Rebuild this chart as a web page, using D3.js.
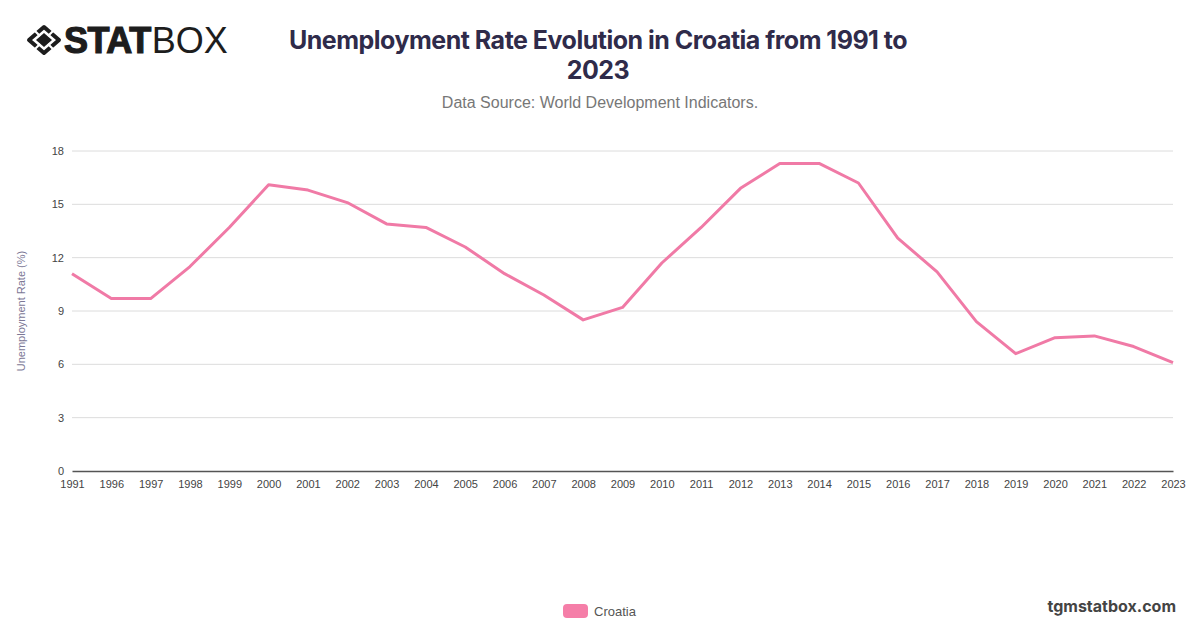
<!DOCTYPE html>
<html>
<head>
<meta charset="utf-8">
<script src="https://cdn.jsdelivr.net/npm/d3@7"></script>
<style>
  body { margin: 0; background: #fff; }
  svg { display: block; font-family: "Liberation Sans", Arial, sans-serif; }
</style>
</head>
<body>
<svg id="chart" width="1200" height="628"></svg>
<script>
// data
const years = ["1991", "1996", "1997", "1998", "1999", "2000", "2001", "2002", "2003", "2004",
  "2005", "2006", "2007", "2008", "2009", "2010", "2011", "2012", "2013", "2014",
  "2015", "2016", "2017", "2018", "2019", "2020", "2021", "2022", "2023"];
const croatia = [11.1, 9.7, 9.7, 11.5, 13.7, 16.1, 15.8, 15.1, 13.9, 13.7,
  12.6, 11.1, 9.9, 8.5, 9.2, 11.7, 13.7, 15.9, 17.3, 17.3,
  16.2, 13.1, 11.2, 8.4, 6.6, 7.5, 7.6, 7.0, 6.1];
const yTicks = [0, 3, 6, 9, 12, 15, 18];

const svg = d3.select("#chart");
const plotLeft = 72, plotRight = 1173, plotTop = 151, plotBottom = 471;

const x = d3.scalePoint().domain(years).range([plotLeft, plotRight]);
const y = d3.scaleLinear().domain([0, 18]).range([plotBottom, plotTop]);

// logo
const logo = svg.append("g").attr("transform", "translate(44,40)");
logo.append("path")
  .attr("d", "M0,-13 L15,0 L0,13 L-15,0 Z")
  .attr("fill", "none").attr("stroke", "#1d1d1d").attr("stroke-width", 4)
  .attr("stroke-linejoin", "round");
logo.append("path").attr("d", "M0,-7 L8,0 L0,7 L-8,0 Z").attr("fill", "#1d1d1d");
[[-1, -1], [1, -1], [1, 1], [-1, 1]].forEach(d => {
  logo.append("line")
    .attr("x1", d[0] * 4).attr("y1", d[1] * 4)
    .attr("x2", d[0] * 11).attr("y2", d[1] * 11)
    .attr("stroke", "#fff").attr("stroke-width", 2.2);
});
const logoText = svg.append("text").attr("x", 64).attr("y", 53)
  .attr("font-size", 36).attr("fill", "#1d1d1d");
logoText.append("tspan").attr("font-weight", 900).attr("letter-spacing", -0.5)
  .attr("stroke", "#1d1d1d").attr("stroke-width", 1.2).text("STAT");
logoText.append("tspan").attr("font-weight", 300).attr("dx", 1).text("BOX");

// title
svg.append("text").attr("x", 598).attr("y", 49).attr("text-anchor", "middle")
  .attr("font-family", "Inter, sans-serif")
  .attr("font-size", 25).attr("font-weight", 700).attr("fill", "#2f2b4a").attr("letter-spacing", -0.5)
  .text("Unemployment Rate Evolution in Croatia from 1991 to");
svg.append("text").attr("x", 598).attr("y", 79).attr("text-anchor", "middle")
  .attr("font-family", "Inter, sans-serif")
  .attr("font-size", 25).attr("font-weight", 700).attr("fill", "#2f2b4a").attr("letter-spacing", -0.5)
  .text("2023");
svg.append("text").attr("x", 600).attr("y", 108).attr("text-anchor", "middle")
  .attr("font-size", 16).attr("fill", "#777")
  .text("Data Source: World Development Indicators.");

// grid
svg.append("g").selectAll("line").data(yTicks.filter(d => d > 0)).join("line")
  .attr("x1", plotLeft).attr("x2", plotRight)
  .attr("y1", d => y(d)).attr("y2", d => y(d))
  .attr("stroke", "#dcdcdc").attr("stroke-width", 1);

// y axis
const yAxis = svg.append("g").attr("transform", `translate(${plotLeft},0)`)
  .call(d3.axisLeft(y).tickValues(yTicks).tickSize(0).tickPadding(8));
yAxis.select(".domain").remove();
yAxis.selectAll("text").attr("font-size", 11).attr("fill", "#444").attr("font-family", "'Liberation Sans', Arial, sans-serif");

// x axis
const xAxis = svg.append("g").attr("transform", `translate(0,${plotBottom})`)
  .call(d3.axisBottom(x).tickSize(0).tickPadding(9));
xAxis.select(".domain").attr("stroke", "#555").attr("stroke-width", 1.5);
xAxis.selectAll("text").attr("font-size", 11).attr("fill", "#444").attr("font-family", "'Liberation Sans', Arial, sans-serif");

svg.append("text")
  .attr("transform", `translate(25,${(plotTop + plotBottom) / 2}) rotate(-90)`)
  .attr("text-anchor", "middle").attr("font-size", 11).attr("fill", "#7c7896")
  .text("Unemployment Rate (%)");

// line
const line = d3.line().x((d, i) => x(years[i])).y(d => y(d));
svg.append("path").datum(croatia)
  .attr("d", line).attr("fill", "none")
  .attr("stroke", "#f07aa6").attr("stroke-width", 3)
  .attr("stroke-linejoin", "round");

// legend
svg.append("rect").attr("x", 563).attr("y", 604).attr("width", 25).attr("height", 14).attr("rx", 4)
  .attr("fill", "#f57ea8");
svg.append("text").attr("x", 594).attr("y", 616).attr("font-size", 13).attr("fill", "#555")
  .text("Croatia");

svg.append("text").attr("x", 1176).attr("y", 612).attr("text-anchor", "end")
  .attr("font-family", "Inter, sans-serif")
  .attr("font-size", 16).attr("font-weight", 700).attr("fill", "#444")
  .text("tgmstatbox.com");
</script>
</body>
</html>
